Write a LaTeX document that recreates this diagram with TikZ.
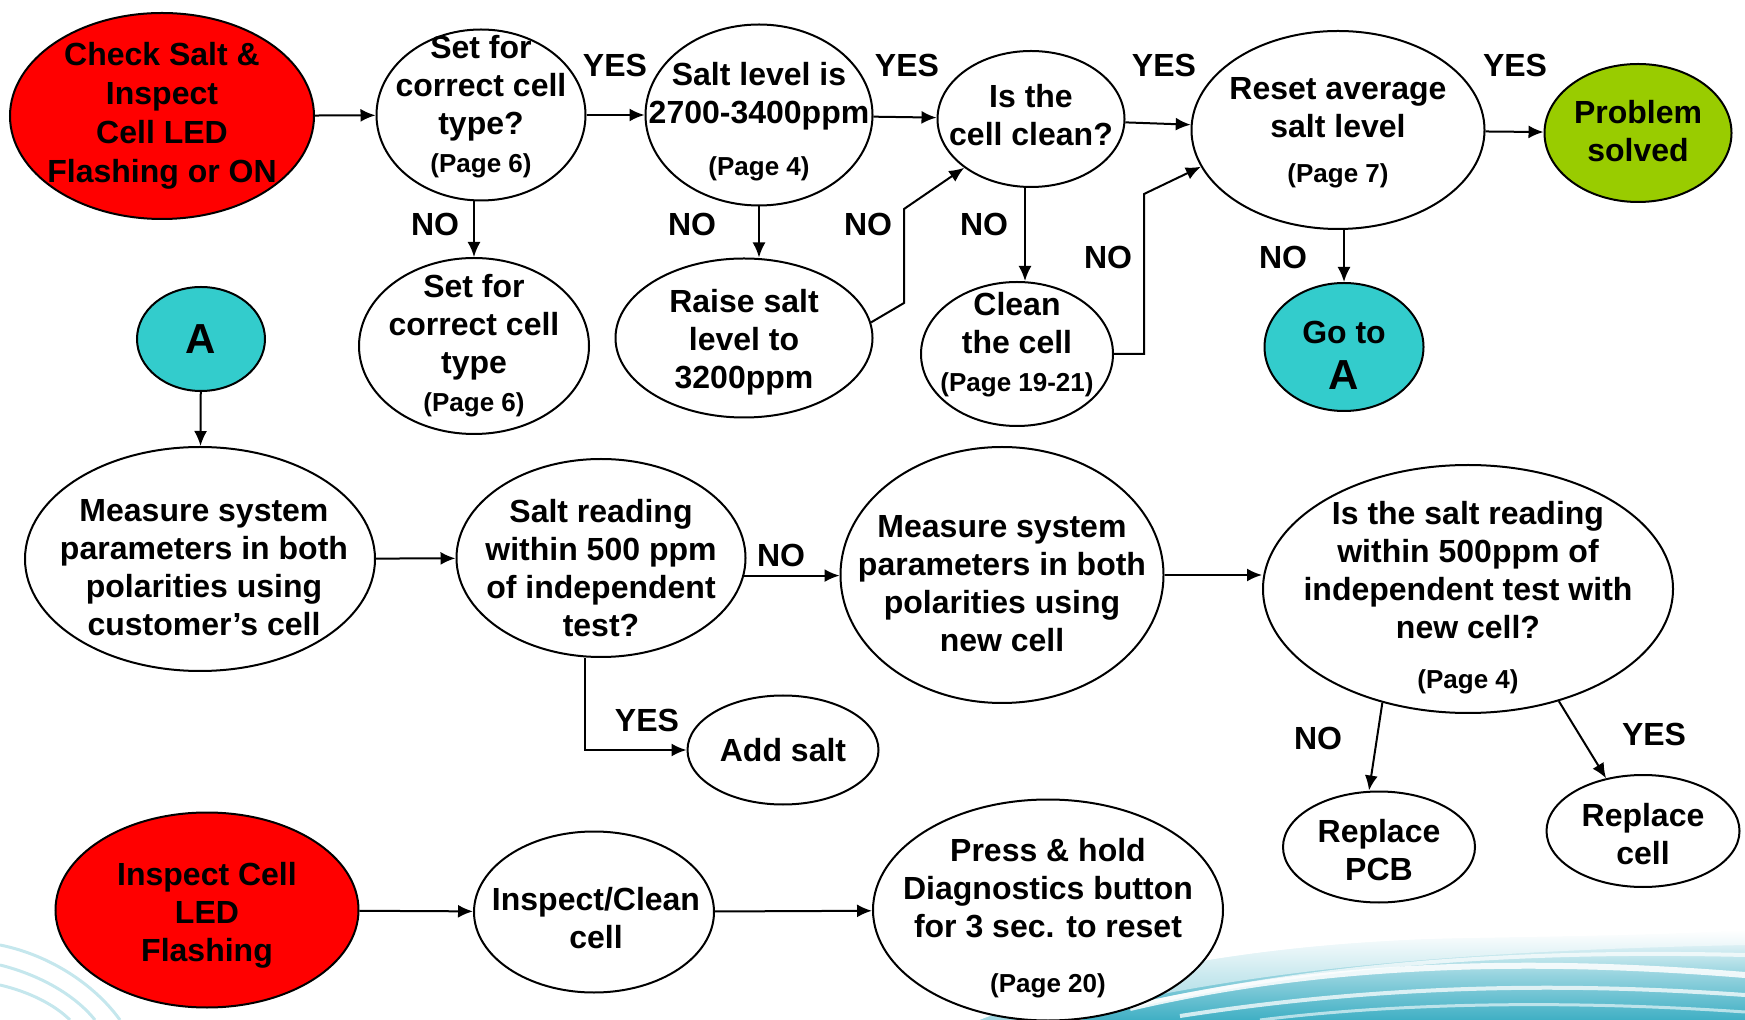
\documentclass[tikz,border=0pt]{standalone}
\usepackage{fontspec}
\setmainfont{Liberation Sans}
\usetikzlibrary{shapes.geometric,arrows.meta}

\definecolor{alarm}{HTML}{FF0000}
\definecolor{jump}{HTML}{33CCCC}
\definecolor{solved}{HTML}{99CC00}
\definecolor{swoosh}{HTML}{3FAFC4}

\newcommand\pg{\fontsize{13}{15}\selectfont}
\newcommand\bigA{\fontsize{21}{24}\selectfont A}

\tikzset{
  bubble/.style={ellipse,draw,line width=1pt,fill=white,inner sep=0pt},
  txt/.style={align=center,inner sep=0pt,font=\fontsize{16}{19}\selectfont\bfseries},
  lbl/.style={inner sep=0pt,font=\fontsize{16}{19}\selectfont\bfseries},
}

\begin{document}
\begin{tikzpicture}[x=0.5pt,y=-0.5pt,>={Latex[length=7.5pt,width=6.5pt]},line width=1pt]
    \useasboundingbox (0,0) rectangle (1745,1020);
    % background swoosh
    \shade[top color=white,bottom color=swoosh,middle color=swoosh!55] (980,1020) .. controls (1120,965) and (1300,940) .. (1480,938) .. controls (1600,936) and (1690,934) .. (1745,930) -- (1745,1020) -- cycle;
    \fill[white,opacity=.5] (980,1020) .. controls (1120,965) and (1300,940) .. (1480,938) .. controls (1600,936) and (1690,934) .. (1745,930) -- (1745,945) .. controls (1500,950) and (1250,965) .. (1050,1020) -- cycle;
    \draw[white,line width=3pt,opacity=.85] (1130,1008) .. controls (1300,968) and (1500,955) .. (1745,975);
    \draw[white,line width=2pt,opacity=.75] (1180,1016) .. controls (1380,985) and (1560,982) .. (1745,995);
    \draw[white,line width=2pt,opacity=.7] (1080,1018) .. controls (1260,975) and (1450,948) .. (1745,955);
    \draw[white,line width=1.5pt,opacity=.6] (1260,1020) .. controls (1420,1000) and (1600,1002) .. (1745,1012);
    \draw[swoosh!30,line width=1.5pt] (0,945) .. controls (50,955) and (95,985) .. (120,1020);
    \draw[swoosh!30,line width=1.5pt] (0,965) .. controls (40,975) and (75,995) .. (95,1020);
    \draw[swoosh!30,line width=1.5pt] (0,985) .. controls (30,992) and (55,1005) .. (70,1020);
    % first row
    \node[bubble,fill=alarm,minimum width=152pt,minimum height=103pt,
      label={[txt,yshift=0pt]center:{Check Salt \&\\[0.4pt]Inspect\\[0.4pt]Cell LED\\[0.4pt]Flashing or ON}}] (check) at (162,116) {};
    \node[bubble,minimum width=104.5pt,minimum height=85.5pt,
      label={[txt,yshift=4.4pt]center:{Set for\\correct cell\\type?\\{\pg (Page 6)}}}] (setfor) at (481,115) {};
    \node[bubble,minimum width=113.5pt,minimum height=90.5pt,
      label={[txt,yshift=-3.5pt]center:{Salt level is\\2700-3400ppm\\[7pt]{\pg (Page 4)}}}] (level) at (759,115) {};
    \node[bubble,minimum width=93.5pt,minimum height=68pt,
      label={[txt,yshift=2pt]center:{Is the\\cell clean?}}] (isclean) at (1031,119) {};
    \node[bubble,minimum width=146.5pt,minimum height=99pt,
      label={[txt,yshift=-1.5pt]center:{Reset average\\salt level\\[3.5pt]{\pg (Page 7)}}}] (reset) at (1338,130) {};
    \node[bubble,fill=solved,minimum width=93.5pt,minimum height=69pt,
      label={[txt,yshift=1pt]center:{Problem\\solved}}] (problem) at (1638,133) {};
    % second row
    \node[bubble,minimum width=115pt,minimum height=88pt,
      label={[txt]center:{Set for\\correct cell\\type\\{\pg (Page 6)}}}] (setfor2) at (474,346) {};
    \node[bubble,minimum width=128.5pt,minimum height=79.5pt,
      label={[txt,yshift=-2pt]center:{Raise salt\\level to\\3200ppm}}] (raise) at (744,338) {};
    \node[bubble,minimum width=96pt,minimum height=72pt,
      label={[txt,yshift=4.5pt]center:{Clean\\the cell\\{\pg (Page 19-21)}}}] (cleancell) at (1017,354) {};
    \node[bubble,fill=jump,minimum width=79.5pt,minimum height=64pt,
      label={[txt,yshift=-4pt]center:{Go to\\[4pt]\bigA}}] (gotoA) at (1344,347) {};
    \node[bubble,fill=jump,minimum width=64pt,minimum height=52pt,
      label={[txt]center:{\bigA}}] (A) at (201,339) {};
    % third row
    \node[bubble,minimum width=175pt,minimum height=112pt,
      label={[txt,xshift=2pt,yshift=-4.5pt]center:{Measure system\\parameters in both\\polarities using\\customer’s cell}}] (measure1) at (200,559) {};
    \node[bubble,minimum width=144.5pt,minimum height=99pt,
      label={[txt,yshift=-5pt]center:{Salt reading\\within 500 ppm\\of independent\\test?}}] (reading) at (601,558) {};
    \node[bubble,minimum width=161.5pt,minimum height=128pt,
      label={[txt,yshift=-4.5pt]center:{Measure system\\parameters in both\\polarities using\\new cell}}] (measure2) at (1002,575) {};
    \node[bubble,minimum width=205pt,minimum height=124pt,
      label={[txt,yshift=-4.3pt]center:{Is the salt reading\\within 500ppm of\\independent test with\\new cell?\\[6pt]{\pg (Page 4)}}}] (issalt) at (1468,589) {};
    % fourth row
    \node[bubble,minimum width=95.5pt,minimum height=54.5pt,
      label={[txt]center:{Add salt}}] (addsalt) at (783,750) {};
    \node[bubble,minimum width=96pt,minimum height=55.5pt,
      label={[txt,yshift=-1.4pt]center:{Replace\\PCB}}] (pcb) at (1379,847) {};
    \node[bubble,minimum width=96.5pt,minimum height=56pt,
      label={[txt,yshift=-1.7pt]center:{Replace\\cell}}] (repcell) at (1643,831) {};
    % bottom row
    \node[bubble,fill=alarm,minimum width=151.5pt,minimum height=97.5pt,
      label={[txt,yshift=-2.5pt]center:{Inspect Cell\\LED\\Flashing}}] (inspect) at (207,910) {};
    \node[bubble,minimum width=120pt,minimum height=80.5pt,
      label={[txt,xshift=1pt,yshift=-3pt]center:{Inspect/Clean\\cell}}] (inspclean) at (594,912) {};
    \node[bubble,minimum width=175pt,minimum height=110.5pt,
      label={[txt,yshift=-4.2pt]center:{Press \& hold\\Diagnostics button\\for 3 sec. to reset\\[8.5pt]{\pg (Page 20)}}}] (press) at (1048,910) {};
    % connectors
    \draw[->] (check) -- (setfor);
    \draw[->] (setfor) -- (level);
    \draw[->] (level) -- (isclean);
    \draw[->] (isclean) -- (reset);
    \draw[->] (reset) -- (problem);
    \draw[->] (setfor2.north |- setfor.south) -- (setfor2);
    \draw[->] (level.south) -- (level.south |- raise.north);
    \draw[->] (raise.7) -- (904,303) -- (904,209) -- (isclean.south west);
    \draw[->] ([xshift=-3pt]isclean.south) -- ([xshift=-3pt]isclean.south |- cleancell.north);
    \draw[->] (cleancell.east) -| (1144,194) -- (reset.195);
    \draw[->] (gotoA.north |- reset.south) -- (gotoA);
    \draw[->] (A) -- (measure1);
    \draw[->] (measure1) -- (reading);
    \draw[->] (reading.353) -- (reading.353 -| measure2.west);
    \draw[->] (measure2.east) -- (measure2.east -| issalt.west);
    \draw[->] ([xshift=-8pt]reading.south) |- (addsalt);
    \draw[->] (issalt.233) -- ([xshift=-5pt]pcb.north);
    \draw[->] (issalt.309) -- (repcell.125);
    \draw[->] (inspect) -- (inspclean);
    \draw[->] (inspclean) -- (press);
    % answers
    \node[lbl] (yes1) at (615,65) {YES};
    \node[lbl] (yes2) at (907,65) {YES};
    \node[lbl] (yes3) at (1164,65) {YES};
    \node[lbl] (yes4) at (1515,65) {YES};
    \node[lbl] (no1) at (435,224) {NO};
    \node[lbl] (no2) at (692,224) {NO};
    \node[lbl] (no3) at (868,224) {NO};
    \node[lbl] (no4) at (984,224) {NO};
    \node[lbl] (no5) at (1108,257) {NO};
    \node[lbl] (no6) at (1283,257) {NO};
    \node[lbl] (no7) at (781,555) {NO};
    \node[lbl] (yes5) at (647,720) {YES};
    \node[lbl] (no8) at (1318,738) {NO};
    \node[lbl] (yes6) at (1654,734) {YES};
\end{tikzpicture}
\end{document}
